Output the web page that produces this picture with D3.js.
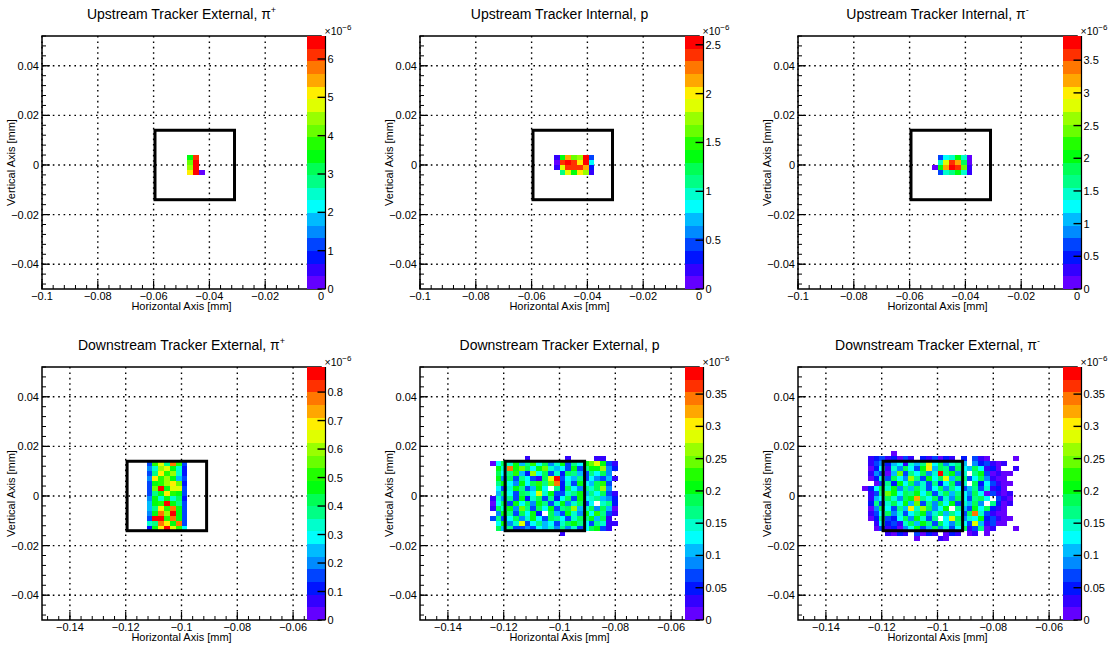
<!DOCTYPE html>
<html><head><meta charset="utf-8">
<script src="https://cdn.jsdelivr.net/npm/d3@7"></script>
<style>
body{margin:0;background:#fff}
svg{display:block}
text{font-family:"Liberation Sans",Arial,Helvetica,sans-serif;fill:#000}
</style>
</head><body>
<svg id="c" width="1115" height="648"></svg>
<script>
// ---------------- data ----------------
const titles = [
  ["Upstream Tracker External, \u03c0", "+"],
  ["Upstream Tracker Internal, p", ""],
  ["Upstream Tracker Internal, \u03c0", "-"],
  ["Downstream Tracker External, \u03c0", "+"],
  ["Downstream Tracker External, p", ""],
  ["Downstream Tracker External, \u03c0", "-"]
];
const xDomainUp = [-0.1, 0];
const xDomainDown = [-0.15, -0.05];
const yDomain = [-0.05, 0.052];
const xTicksUp = [-0.1, -0.08, -0.06, -0.04, -0.02, 0];
const xTicksDown = [-0.14, -0.12, -0.1, -0.08, -0.06];
const yTicks = [-0.04, -0.02, 0, 0.02, 0.04];
const zMax = [6.6, 2.59, 3.87, 0.888, 0.392, 0.392];           // x 1e-6
const zTicks = [
  [0, 1, 2, 3, 4, 5, 6],
  [0, 0.5, 1, 1.5, 2, 2.5],
  [0, 0.5, 1, 1.5, 2, 2.5, 3, 3.5],
  [0, 0.1, 0.2, 0.3, 0.4, 0.5, 0.6, 0.7, 0.8],
  [0, 0.05, 0.1, 0.15, 0.2, 0.25, 0.3, 0.35],
  [0, 0.05, 0.1, 0.15, 0.2, 0.25, 0.3, 0.35]
];
const boxXUp = [-0.0595, -0.031];
const boxXDown = [-0.1195, -0.091];
const boxY = [-0.014, 0.014];
const binW = 0.1 / 48;   // horizontal bin width [mm]
const binH = 0.002;      // vertical bin height [mm]
// left edge of first column / top edge of first row of each matrix
const cellX0 = [-0.047917, -0.052083, -0.052083, -0.1125, -0.125, -0.127083];
const cellYTop = [0.004, 0.004, 0.004, 0.014, 0.016, 0.018];

// bin contents (x 1e-6), rows from top to bottom, 0 = empty
const upExtPiPlus = [
  [3.5, 6.1, 0],
  [4.2, 6.3, 0],
  [4.5, 6.5, 0],
  [5.1, 6.6, 0.2]
];
const upIntP = [
  [0.19, 1.36, 2.14, 1.62, 1.75, 2.52, 0.45],
  [0.06, 2.40, 2.52, 2.40, 2.01, 2.59, 0.84],
  [0.19, 1.88, 2.40, 2.40, 2.40, 2.14, 0.32],
  [0,    1.10, 1.88, 1.36, 2.01, 1.75, 0.19]
];
const upIntPiMinus = [
  [0,    0.68, 1.26, 1.45, 2.03, 1.45, 0.10],
  [0,    1.45, 2.81, 3.58, 3.19, 1.84, 0.10],
  [0.10, 2.03, 3.19, 3.87, 3.58, 2.42, 0.29],
  [0,    0.68, 1.45, 1.65, 2.03, 1.45, 0.29]
];
const downExtPiPlus = [
  [0.16,0.51,0.64,0.38,0.78,0.51,0.16],
  [0.20,0.33,0.60,0.64,0.47,0.33,0.11],
  [0.16,0.38,0.69,0.51,0.60,0.33,0.11],
  [0.20,0.69,0.51,0.60,0.47,0.24,0.16],
  [0.16,0.47,0.51,0.60,0.69,0.55,0.11],
  [0.16,0.55,0.87,0.47,0.64,0.64,0.16],
  [0.16,0.38,0.47,0.69,0.51,0.47,0.16],
  [0.20,0.47,0.33,0.47,0.33,0.42,0.11],
  [0.24,0.47,0.51,0.888,0.47,0.38,0.16],
  [0.24,0.38,0.69,0.51,0.78,0.47,0.16],
  [0.20,0.47,0.78,0.60,0.87,0.47,0.16],
  [0.16,0.87,0.87,0.51,0.78,0.47,0.16],
  [0.33,0.38,0.78,0.69,0.47,0.78,0.16],
  [0.11,0.47,0.69,0.87,0.64,0.51,0.29]
];
const downExtP = [
  [0,0,0,0,0,0,0.03,0,0,0,0,0,0,0.03,0,0,0,0,0.03,0.03,0,0],
  [0.01,0.13,0.19,0.15,0.21,0.11,0.17,0.23,0.13,0.19,0.09,0.15,0.21,0.07,0.17,0.13,0.21,0.25,0.28,0.21,0.07,0.03],
  [0,0.21,0.15,0.34,0.21,0.25,0.19,0.13,0.21,0.25,0.15,0.11,0.13,0.07,0.21,0.07,0.17,0.21,0.21,0.27,0.09,0.05],
  [0,0.19,0.13,0.17,0.23,0.11,0.05,0.27,0.13,0.19,0.07,0.15,0.05,0.19,0.17,0.11,0.07,0.17,0.13,0.19,0.09,0],
  [0,0.21,0.09,0.19,0.07,0.17,0.13,0.07,0.03,0.19,0.28,0.392,0.07,0.13,0.11,0.17,0.07,0.13,0.09,0.07,0.11,0.03],
  [0,0.17,0.21,0.13,0.09,0.21,0.13,0.19,0.23,0.17,0.25,0.34,0.05,0.15,0.07,0.21,0.13,0.11,0.19,0.23,0.07,0],
  [0,0.13,0.07,0.15,0.21,0.17,0.07,0.11,0.21,0.13,0,0.17,0.05,0.19,0.13,0.09,0.17,0.15,0.19,0.27,0.09,0],
  [0,0.11,0.19,0.13,0.07,0.19,0.17,0.13,0.28,0.15,0.21,0.07,0.07,0.15,0.17,0.21,0.11,0.17,0.13,0.19,0.07,0.03],
  [0.03,0.15,0.09,0.17,0.07,0.21,0.05,0.15,0.19,0.07,0.17,0.05,0.13,0.19,0.07,0.21,0.13,0.15,0.17,0.11,0.09,0.05],
  [0.01,0.13,0.19,0.07,0.21,0.13,0.19,0.09,0.21,0.17,0.07,0.15,0.21,0.09,0.15,0.19,0.07,0.13,0,0.15,0.17,0.05],
  [0.03,0.19,0.15,0.21,0.09,0.25,0.17,0.07,0.19,0.13,0.21,0.07,0.17,0.19,0.27,0.11,0.15,0.19,0.09,0.19,0.11,0.01],
  [0,0.09,0.21,0.17,0.07,0.19,0.13,0.21,0.05,0,0.19,0.11,0.07,0.21,0.15,0.09,0.21,0.13,0.23,0.17,0.07,0.03],
  [0.07,0.17,0.07,0.13,0.19,0.09,0.15,0.21,0.13,0.07,0.19,0.17,0.13,0.07,0.15,0.19,0.17,0.21,0.11,0.19,0.03,0],
  [0,0.13,0.21,0.09,0.15,0.28,0.07,0.13,0.17,0.11,0.13,0.07,0.15,0.19,0.21,0.17,0.13,0.07,0.17,0.15,0.03,0.03],
  [0,0.19,0.11,0.17,0.07,0.07,0.09,0.07,0.13,0.11,0.15,0.09,0.17,0.09,0.15,0.07,0.13,0.19,0.21,0.07,0.03,0],
  [0,0,0,0,0,0,0,0,0,0,0,0,0.03,0,0,0,0,0,0,0,0,0]
];
const downExtPiMinus = [
  [0,0,0,0,0,0.01,0,0,0,0,0,0,0,0,0,0,0,0,0,0,0,0,0,0,0,0,0,0],
  [0,0.03,0.05,0.07,0.03,0.05,0.01,0.07,0.03,0,0.05,0.03,0.07,0.01,0.05,0.03,0,0.05,0,0.07,0.03,0.01,0,0,0,0,0.01,0],
  [0,0.03,0.07,0.09,0.05,0.11,0.13,0.03,0.15,0.11,0.17,0.28,0.13,0.19,0.09,0.15,0.17,0.11,0,0.09,0.05,0.07,0.03,0.01,0.03,0,0,0],
  [0,0.01,0.05,0.13,0.03,0.15,0.09,0.19,0.13,0.07,0.21,0.30,0.11,0.19,0.17,0.07,0.19,0.13,0.11,0.19,0.13,0.03,0.05,0.01,0,0,0.03,0],
  [0,0.03,0.09,0.07,0.01,0.11,0.25,0.07,0.17,0.13,0.19,0.09,0.15,0.392,0.17,0.21,0.09,0.15,0,0.17,0.21,0.07,0.01,0.03,0.01,0.01,0,0],
  [0,0.01,0.05,0.15,0.07,0.19,0.13,0.09,0.27,0.17,0.07,0.21,0.13,0.19,0.28,0.11,0.19,0.17,0.07,0.13,0.19,0.09,0.03,0.01,0.01,0,0,0],
  [0,0,0.01,0.07,0.17,0.05,0.21,0.13,0.19,0.09,0.15,0.07,0.17,0.05,0.13,0.19,0.07,0.15,0,0.19,0.05,0.13,0.07,0.03,0.01,0.01,0,0],
  [0.01,0.05,0.13,0.19,0.15,0.21,0.09,0.17,0.11,0.19,0.15,0.07,0.13,0.19,0.09,0.17,0.13,0.07,0.11,0.17,0.07,0.15,0.03,0.05,0.01,0,0,0],
  [0,0.03,0.07,0.17,0.25,0.21,0.13,0.19,0.17,0.21,0.13,0.19,0.07,0.15,0.19,0.11,0.17,0.13,0.09,0.19,0.13,0.01,0.07,0.03,0.01,0.03,0,0],
  [0,0.03,0.11,0.13,0.19,0.15,0.09,0.19,0.21,0.32,0.17,0.13,0.19,0.07,0.15,0.09,0.19,0.13,0.07,0.17,0.19,0.13,0,0.07,0.03,0.01,0,0],
  [0,0.05,0.17,0.07,0.15,0.19,0.13,0.21,0.11,0.25,0.07,0.17,0.09,0.19,0.13,0.21,0.07,0.15,0.11,0.19,0.09,0,0.17,0.05,0.01,0.03,0,0],
  [0,0.01,0.09,0.19,0.13,0.07,0.17,0.11,0.30,0.15,0.27,0.19,0.09,0.13,0.21,0,0.17,0.11,0.07,0.21,0.13,0.19,0.05,0.03,0.01,0,0,0],
  [0,0.03,0.07,0.13,0.19,0.09,0.15,0.07,0.13,0.17,0.21,0.09,0.15,0.19,0.11,0.17,0.13,0.07,0.19,0.34,0.15,0.07,0.03,0.01,0.01,0,0,0],
  [0,0.01,0.05,0.17,0.07,0.05,0.13,0.19,0.09,0.21,0.15,0.07,0.17,0,0.13,0.28,0.19,0.09,0.15,0.13,0.21,0.05,0.07,0.03,0.01,0.01,0,0],
  [0,0,0.03,0.13,0.05,0.07,0.03,0.15,0.19,0.11,0.21,0.17,0.07,0.19,0.13,0.09,0.17,0.13,0.07,0.28,0.11,0.03,0.07,0.01,0.01,0,0,0],
  [0,0,0.01,0.07,0.03,0.05,0.01,0.09,0.13,0.21,0.07,0.11,0.19,0.09,0.15,0.07,0.13,0.19,0.03,0.07,0.17,0.01,0.03,0,0,0,0.01,0],
  [0,0,0,0,0.03,0.01,0.05,0.03,0,0.07,0.01,0.05,0.03,0,0.01,0.05,0.03,0,0.01,0.03,0,0.01,0,0,0,0,0,0],
  [0,0,0,0,0,0,0,0,0,0.01,0,0,0,0.03,0.01,0,0,0,0,0,0,0,0,0,0,0,0,0]
];
const matrices = [upExtPiPlus, upIntP, upIntPiMinus, downExtPiPlus, downExtP, downExtPiMinus];

// ---------------- style / layout ----------------
// ROOT "pretty" palette (violet -> red), 20 contour levels
const palette = d3.range(20).map(j => {
  const idx = Math.floor((j + 0.99) * 50 / 20);
  return idx >= 49 ? "#ff0000" : d3.hsl(280 - (idx + 1) * 5.6, 1, 0.5).formatHex();
});
const colOff = [0, 378, 756];
const rowOff = [0, 331];
const fmt = v => {
  const s = String(+v.toFixed(5));
  return s.replace("-", "\u2212");
};

const svg = d3.select("#c");

matrices.forEach((mat, i) => {
  const up = i < 3;
  const ox = colOff[i % 3], oy = rowOff[Math.floor(i / 3)];
  const FL = 42 + ox, FR = FL + 279, FT = 36 + oy, FB = FT + 253;
  const xDom = up ? xDomainUp : xDomainDown;
  const x = d3.scaleLinear().domain(xDom).range([FL, FR]);
  const y = d3.scaleLinear().domain(yDomain).range([FB, FT]);
  const col = d3.scaleQuantize().domain([0, zMax[i]]).range(palette);
  const g = svg.append("g");

  // grid (dotted)
  const xt = up ? xTicksUp : xTicksDown;
  g.selectAll(null).data(xt).join("line")
    .attr("x1", d => x(d)).attr("x2", d => x(d)).attr("y1", FT).attr("y2", FB)
    .attr("stroke", "#000").attr("stroke-width", 1.4).attr("stroke-dasharray", "1.6,3.8");
  g.selectAll(null).data(yTicks).join("line")
    .attr("x1", FL).attr("x2", FR).attr("y1", d => y(d)).attr("y2", d => y(d))
    .attr("stroke", "#000").attr("stroke-width", 1.4).attr("stroke-dasharray", "1.6,3.8");

  // cells
  const cells = [];
  mat.forEach((row, r) => row.forEach((v, c) => {
    if (v > 0) cells.push({x0: cellX0[i] + c * binW, y0: cellYTop[i] - r * binH, v});
  }));
  g.selectAll(null).data(cells).join("rect")
    .attr("x", d => x(d.x0)).attr("y", d => y(d.y0))
    .attr("width", d => x(d.x0 + binW) - x(d.x0))
    .attr("height", d => y(d.y0 - binH) - y(d.y0))
    .attr("fill", d => col(d.v)).attr("shape-rendering", "crispEdges");

  // box
  const bx = up ? boxXUp : boxXDown;
  g.append("rect")
    .attr("x", x(bx[0])).attr("y", y(boxY[1]))
    .attr("width", x(bx[1]) - x(bx[0])).attr("height", y(boxY[0]) - y(boxY[1]))
    .attr("fill", "none").attr("stroke", "#000").attr("stroke-width", 3);

  // frame
  g.append("rect").attr("x", FL).attr("y", FT).attr("width", FR - FL).attr("height", FB - FT)
    .attr("fill", "none").attr("stroke", "#000").attr("stroke-width", 1.5);

  // ticks
  const minor = (lo, hi) => {
    const out = [];
    for (let k = Math.ceil(lo / 0.004 - 1e-6); k * 0.004 <= hi + 1e-9; k++) out.push(k * 0.004);
    return out;
  };
  g.selectAll(null).data(minor(xDom[0], xDom[1])).join("line")
    .attr("x1", d => x(d)).attr("x2", d => x(d)).attr("y1", FB).attr("y2", FB - 4)
    .attr("stroke", "#000").attr("stroke-width", 1);
  g.selectAll(null).data(xt).join("line")
    .attr("x1", d => x(d)).attr("x2", d => x(d)).attr("y1", FB).attr("y2", FB - 8)
    .attr("stroke", "#000").attr("stroke-width", 1.2);
  g.selectAll(null).data(minor(yDomain[0], yDomain[1])).join("line")
    .attr("x1", FL).attr("x2", FL + 4).attr("y1", d => y(d)).attr("y2", d => y(d))
    .attr("stroke", "#000").attr("stroke-width", 1);
  g.selectAll(null).data(yTicks).join("line")
    .attr("x1", FL).attr("x2", FL + 8).attr("y1", d => y(d)).attr("y2", d => y(d))
    .attr("stroke", "#000").attr("stroke-width", 1.2);

  // tick labels
  g.selectAll(null).data(xt).join("text")
    .attr("x", d => x(d)).attr("y", FB + 11).attr("text-anchor", "middle")
    .attr("font-size", 11).text(fmt);
  g.selectAll(null).data(yTicks).join("text")
    .attr("x", FL - 3).attr("y", d => y(d) + 4).attr("text-anchor", "end")
    .attr("font-size", 11).text(fmt);

  // axis titles
  g.append("text").attr("x", (FL + FR) / 2).attr("y", FB + 21).attr("text-anchor", "middle")
    .attr("font-size", 11).text("Horizontal Axis [mm]");
  g.append("text").attr("transform", `translate(${ox + 15},${(FT + FB) / 2}) rotate(-90)`)
    .attr("text-anchor", "middle").attr("font-size", 11).text("Vertical Axis [mm]");

  // title
  const t = g.append("text").attr("x", (FL + FR) / 2).attr("y", oy + 19)
    .attr("text-anchor", "middle").attr("font-size", 14);
  t.append("tspan").text(titles[i][0]);
  if (titles[i][1]) t.append("tspan").attr("dy", -6).attr("font-size", 9).text(titles[i][1]);

  // colour bar
  const cbL = FL + 265, cbR = cbL + 18.5;
  const z = d3.scaleLinear().domain([0, zMax[i]]).range([FB, FT]);
  const step = zMax[i] / 20;
  g.selectAll(null).data(palette).join("rect")
    .attr("x", cbL).attr("width", cbR - cbL)
    .attr("y", (d, j) => z((j + 1) * step)).attr("height", (d, j) => z(j * step) - z((j + 1) * step))
    .attr("fill", d => d).attr("shape-rendering", "crispEdges");
  g.append("line").attr("x1", cbR).attr("x2", cbR).attr("y1", FT).attr("y2", FB)
    .attr("stroke", "#000").attr("stroke-width", 1.2);
  g.selectAll(null).data(zTicks[i]).join("line")
    .attr("x1", cbR - 8).attr("x2", cbR).attr("y1", d => z(d)).attr("y2", d => z(d))
    .attr("stroke", "#000").attr("stroke-width", 1.4);
  g.selectAll(null).data(zTicks[i]).join("text")
    .attr("x", cbR + 2).attr("y", d => z(d) + 4).attr("font-size", 11).text(fmt);
  const e = g.append("text").attr("x", cbR - 1).attr("y", FT - 1).attr("font-size", 10.5).attr("fill", "#444");
  e.append("tspan").text("\u00d710");
  e.append("tspan").attr("dy", -5).attr("font-size", 8).text("\u22126");
});
</script>
</body></html>
